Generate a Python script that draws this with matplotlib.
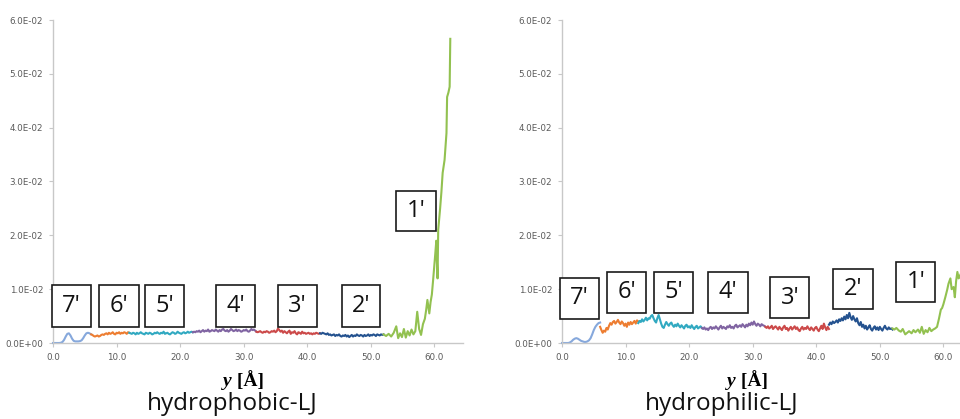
import numpy as np
import matplotlib
matplotlib.use("Agg")
import matplotlib.pyplot as plt
from matplotlib.patches import Rectangle

# segment colours (7' ... 1')
seg_colors = ['#86a8dc', '#ed7d31', '#31a9c1', '#8064a2', '#cc4a4a', '#24528f', '#92c150']
seg_names = ["7'", "6'", "5'", "4'", "3'", "2'", "1'"]

# ---------------- hydrophobic-LJ (values x 1e-3) ----------------
phob_7 = [0, 0, 0, 0, 0, 0.05, 0.2, 0.6, 1.2, 1.7, 1.8, 1.4, 0.8, 0.4, 0.3, 0.3, 0.3, 0.35,
          0.5, 0.9, 1.4, 1.8, 1.9, 1.8, 1.6]
phob_6 = [1.6, 1.5, 1.3, 1.2, 1.3, 1.4, 1.2, 1.3, 1.5, 1.6, 1.5, 1.7, 1.8, 1.6, 1.9, 1.7, 1.8,
          2.0, 1.7, 1.6, 1.9, 1.8, 2.0, 1.7, 1.9, 1.8, 2.0, 1.9, 1.7, 2.0, 1.9]
phob_5 = [1.9, 1.8, 1.7, 1.9, 1.8, 1.6, 1.9, 1.7, 1.8, 2.0, 1.8, 1.7, 1.6, 1.9, 1.8, 1.7, 1.9,
          1.8, 1.6, 1.7, 1.9, 1.8, 2.0, 1.8, 1.7, 1.9, 1.8, 2.1, 1.7, 1.8, 1.9, 1.7, 1.6, 1.8,
          2.0, 1.9, 1.7, 1.8, 2.1, 1.9, 1.8, 1.7, 1.9, 2.0, 1.8, 1.9, 2.1, 1.9, 2.0, 2.1, 2.0]
phob_4 = [2.0, 2.1, 2.0, 2.2, 2.1, 2.3, 2.0, 2.2, 2.4, 2.1, 2.3, 2.2, 2.5, 2.1, 2.2, 2.4, 2.3,
          2.2, 2.5, 2.3, 2.1, 2.4, 2.2, 2.5, 2.6, 2.3, 2.2, 2.4, 2.1, 2.3, 2.6, 2.4, 2.2, 2.3,
          2.5, 2.2, 2.4, 2.3, 2.1, 2.2, 2.4, 2.3, 2.5, 2.2, 2.1, 2.3, 2.6, 2.4, 2.5, 2.3, 2.1]
phob_3 = [2.1, 2.0, 2.1, 2.2, 2.0, 1.9, 2.1, 2.0, 2.2, 2.1, 1.9, 2.0, 2.2, 2.1, 2.3, 2.0, 2.2,
          2.7, 2.4, 2.1, 2.3, 1.9, 2.2, 2.0, 1.8, 2.1, 2.3, 1.7, 2.0, 1.9, 2.2, 1.8, 1.6, 2.0,
          1.9, 1.7, 2.1, 1.8, 1.9, 1.7, 1.8, 1.9, 1.7, 1.8, 1.6, 1.8, 1.7, 1.9, 1.8, 1.7, 1.8]
phob_2 = [1.8, 1.7, 1.9, 1.8, 1.7, 1.6, 1.8, 1.5, 1.6, 1.4, 1.5, 1.6, 1.3, 1.5, 1.4, 1.6, 1.3,
          1.2, 1.4, 1.3, 1.5, 1.2, 1.4, 1.1, 1.3, 1.5, 1.2, 1.4, 1.3, 1.6, 1.4, 1.3, 1.5, 1.4,
          1.2, 1.5, 1.3, 1.4, 1.6, 1.3, 1.5, 1.4, 1.6, 1.5, 1.3, 1.6, 1.5, 1.4, 1.6, 1.5, 1.6]
phob_1_x = [52.0, 52.4, 52.8, 53.2, 53.6, 54.0, 54.3, 54.6, 54.9, 55.2, 55.5, 55.8, 56.1, 56.4,
            56.7, 57.0, 57.3, 57.6, 57.9, 58.2, 58.5, 58.7, 58.9, 59.2, 59.4, 59.6, 59.8, 60.1,
            60.3, 60.4, 60.5, 60.6, 60.9, 61.1, 61.3, 61.6, 61.9, 62.0, 62.2, 62.4, 62.5]
phob_1 = [1.6, 1.3, 1.7, 1.2, 1.9, 3.1, 0.9, 1.8, 1.1, 2.6, 1.0, 2.2, 1.4, 2.5, 1.6, 2.2, 5.8,
          2.6, 1.5, 3.5, 4.5, 6.1, 8.0, 5.5, 7.6, 9.0, 11.7, 16.0, 19.0, 15.0, 12.0, 21.0, 25.0,
          28.0, 31.6, 34.0, 39.0, 45.7, 46.5, 47.6, 56.5]

# ---------------- hydrophilic-LJ (values x 1e-3) ----------------
phil_7 = [0, 0, 0, 0, 0, 0.1, 0.3, 0.6, 0.8, 0.9, 0.8, 0.6, 0.4, 0.3, 0.2, 0.2, 0.3, 0.5,
          0.9, 1.6, 2.4, 3.0, 3.4, 3.7, 3.8]
phil_6 = [3.0, 2.4, 1.9, 2.3, 2.1, 2.8, 2.5, 3.2, 3.7, 3.4, 3.9, 4.1, 3.6, 3.9, 4.3, 3.8, 3.5,
          4.0, 3.7, 3.2, 3.6, 3.0, 3.8, 3.4, 3.9, 3.5, 3.8, 4.1, 3.6, 4.2, 4.0]
phil_5 = [3.7, 4.1, 3.9, 4.4, 4.0, 4.3, 4.7, 4.2, 4.6, 4.5, 5.0, 5.2, 4.6, 4.1, 3.8, 4.6, 5.2,
          4.4, 3.6, 3.0, 2.8, 3.4, 3.9, 3.5, 3.2, 3.6, 3.8, 3.3, 3.0, 3.4, 3.1, 3.6, 3.2, 2.9,
          3.3, 3.0, 2.7, 3.2, 3.4, 2.9, 3.1, 2.8, 3.3, 2.9, 2.6, 3.0, 3.2, 2.7, 2.9, 3.1, 2.8]
phil_4 = [2.8, 2.6, 2.9, 2.5, 2.7, 2.4, 2.8, 3.0, 2.6, 2.9, 2.7, 3.1, 2.8, 2.5, 2.9, 3.2, 2.7,
          3.0, 2.8, 2.6, 3.1, 2.9, 3.3, 2.8, 3.0, 2.7, 3.2, 3.4, 2.9, 3.1, 3.3, 3.0, 3.5, 3.2,
          2.9, 3.4, 3.1, 3.6, 3.3, 3.8, 3.4, 4.0, 3.5, 3.2, 3.6, 3.4, 3.1, 3.5, 3.3, 3.2, 3.0]
phil_3 = [3.0, 2.8, 3.1, 2.7, 2.9, 3.2, 2.6, 2.9, 3.1, 2.8, 2.5, 3.0, 2.7, 2.4, 2.9, 3.2, 2.6,
          2.8, 2.3, 2.7, 3.0, 2.5, 2.8, 3.1, 2.6, 2.9, 2.4, 2.2, 2.7, 3.0, 2.5, 2.8, 2.6, 3.1,
          2.7, 2.4, 2.9, 2.6, 2.3, 2.8, 3.0, 2.5, 2.2, 2.7, 3.2, 2.6, 3.6, 2.9, 2.4, 3.0, 2.6]
phil_2 = [3.4, 3.8, 3.5, 4.0, 3.7, 3.9, 4.2, 3.8, 4.4, 4.1, 4.6, 4.2, 4.9, 4.4, 5.2, 4.6, 5.6,
          4.8, 4.3, 5.0, 4.4, 4.0, 4.6, 3.7, 3.3, 3.9, 3.0, 3.4, 2.7, 3.2, 2.5, 2.9, 3.3, 2.6,
          2.3, 2.8, 3.1, 2.5, 2.9, 2.4, 3.0, 2.6, 2.3, 2.8, 3.2, 2.7, 2.5, 2.9, 2.6, 2.7, 2.5]
phil_1_x = [52.0, 52.3, 52.6, 53.0, 53.3, 53.6, 54.0, 54.3, 54.6, 55.0, 55.3, 55.6, 56.0, 56.3,
            56.6, 56.9, 57.2, 57.5, 57.8, 58.1, 58.4, 58.7, 59.0, 59.3, 59.6, 59.8, 60.0, 60.3,
            60.6, 60.8, 61.1, 61.3, 61.6, 61.8, 62.0, 62.2, 62.4, 62.6, 62.8]
phil_1 = [2.7, 2.5, 2.8, 2.3, 2.1, 2.6, 1.6, 1.9, 2.2, 1.8, 2.4, 2.0, 2.5, 1.9, 3.0, 1.7, 2.4,
          2.0, 2.8, 2.2, 2.5, 2.7, 3.0, 4.5, 6.2, 6.5, 7.2, 8.5, 9.9, 11.0, 12.0, 10.0, 10.4,
          8.5, 11.5, 13.2, 12.0, 12.5, 13.0]

# segment ranges along y [A]
seg_ranges = [(0, 6), (6, 12), (12, 22), (22, 32), (32, 42), (42, 52)]

# label boxes: (x0, x1, y0, y1) in data units
phob_boxes = [(-0.2, 6.0, 0.0030, 0.0108), (7.2, 13.5, 0.0030, 0.0108), (14.5, 20.6, 0.0030, 0.0108),
              (25.7, 31.8, 0.0030, 0.0108), (35.4, 41.6, 0.0030, 0.0108), (45.4, 51.5, 0.0030, 0.0108),
              (54.0, 60.2, 0.0208, 0.0283)]
phil_boxes = [(-0.3, 5.8, 0.0045, 0.0121), (7.1, 13.2, 0.0056, 0.0132), (14.5, 20.6, 0.0056, 0.0132),
              (23.0, 29.3, 0.0056, 0.0132), (32.8, 38.9, 0.0046, 0.0123), (42.7, 49.0, 0.0063, 0.0138),
              (52.6, 58.7, 0.0076, 0.0151)]

W, H = 960, 419
fig = plt.figure(figsize=(W / 100, H / 100), dpi=100)


def draw_panel(left_px, segs, x1, y1, boxes, title, label_x, title_x):
    ax = fig.add_axes([left_px / W, 76 / H, 410 / W, 323 / H])
    for (a, b), vals, c in zip(seg_ranges, segs, seg_colors):
        xs = np.linspace(a, b, len(vals))
        ax.plot(xs, np.array(vals) * 1e-3, color=c, lw=1.5, clip_on=False)
    ax.plot(x1, np.array(y1) * 1e-3, color=seg_colors[6], lw=1.5, clip_on=False)

    for (bx0, bx1, by0, by1), name in zip(boxes, seg_names):
        ax.add_patch(Rectangle((bx0, by0), bx1 - bx0, by1 - by0, fill=True, facecolor='white',
                               edgecolor='#1a1a1a', lw=1.2, clip_on=False, zorder=5))
        ax.text((bx0 + bx1) / 2, (by0 + by1) / 2, name, ha='center', va='center',
                fontsize=17, family='Open Sans', color='#111111', zorder=6)

    ax.set_xlim(0, 64.5)
    ax.set_ylim(0, 0.06)
    ax.set_xticks(np.arange(0, 61, 10))
    ax.set_xticklabels(['%.1f' % v for v in np.arange(0, 61, 10)])
    ax.set_yticks(np.arange(0, 0.061, 0.01))
    ax.set_yticklabels(['{:.1E}'.format(v) for v in np.arange(0, 0.061, 0.01)])
    for s in ['top', 'right']:
        ax.spines[s].set_visible(False)
    for s in ['left', 'bottom']:
        ax.spines[s].set_color('#c8c8c8')
        ax.spines[s].set_linewidth(1.0)
    ax.tick_params(length=3, width=0.8, color='#c8c8c8', labelsize=6.3, labelcolor='#5a5a5a', pad=4)

    fig.text(label_x / W, 1 - 381 / H, 'y', ha='right', va='center', fontsize=14,
             family='Liberation Serif', weight='bold', style='italic')
    fig.text(label_x / W, 1 - 381 / H, ' [Å]', ha='left', va='center', fontsize=14,
             family='Liberation Serif', weight='bold')
    fig.text(title_x / W, 1 - 404 / H, title, ha='center', va='center', fontsize=17.5,
             family='Open Sans', color='#111111')
    return ax


draw_panel(53, [phob_7, phob_6, phob_5, phob_4, phob_3, phob_2], phob_1_x, phob_1,
           phob_boxes, 'hydrophobic-LJ', 232, 232)
draw_panel(562, [phil_7, phil_6, phil_5, phil_4, phil_3, phil_2], phil_1_x, phil_1,
           phil_boxes, 'hydrophilic-LJ', 736, 722)

fig.savefig('out.png', dpi=100)
